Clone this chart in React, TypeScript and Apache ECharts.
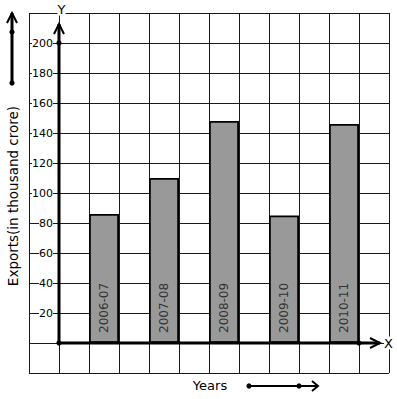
import React, { useEffect, useRef } from 'react';
import * as echarts from 'echarts';

const years = ['2006-07', '2007-08', '2008-09', '2009-10', '2010-11'];
const exportsValues = [86, 110, 148, 85, 146];
const yTickLabels = [20, 40, 60, 80, 100, 120, 140, 160, 180, 200];

const FONT = 'DejaVu Sans';

export default function App() {
  const ref = useRef<HTMLDivElement>(null);

  useEffect(() => {
    const chart = echarts.init(ref.current!, null, { renderer: 'svg' });
    const gridLine = { show: true, lineStyle: { color: '#1a1a1a', width: 1 } };
    chart.setOption({
      animation: false,
      grid: { left: 29, top: 13, width: 360, height: 360 },
      xAxis: {
        type: 'value',
        min: -1,
        max: 11,
        interval: 1,
        axisLine: { show: false, onZero: false },
        axisTick: { show: false },
        axisLabel: { show: false },
        splitLine: gridLine,
      },
      yAxis: {
        type: 'value',
        min: -20,
        max: 220,
        interval: 20,
        position: 'left',
        offset: -30,
        axisLine: { show: false, onZero: false },
        axisTick: { show: false },
        axisLabel: {
          margin: 6,
          fontSize: 11,
          fontFamily: FONT,
          color: '#000',
          backgroundColor: '#fff',
          formatter: (v: number) => (yTickLabels.includes(v) ? String(v) : ''),
        },
        splitLine: gridLine,
      },
      series: [
        {
          type: 'bar',
          data: years.map((_, i) => [1.5 + 2 * i, exportsValues[i]]),
          barWidth: 30,
          itemStyle: { color: '#999999', borderColor: '#000', borderWidth: 1.8 },
          label: {
            show: true,
            position: 'insideBottom',
            rotate: 90,
            align: 'left',
            verticalAlign: 'middle',
            distance: 10,
            formatter: (p: any) => years[p.dataIndex],
            fontSize: 12,
            fontFamily: FONT,
            color: '#333',
          },
        },
      ],
    });

    const p = (x: number, y: number) => chart.convertToPixel({ gridIndex: 0 }, [x, y]) as number[];
    const [ox, oy] = p(0, 0);
    const [, yTop] = p(0, 212.7);
    const [xEnd] = p(10.7, 0);
    const [, y200] = p(0, 200);
    const [x10] = p(10, 0);
    const black = '#000';
    const line = (x1: number, y1: number, x2: number, y2: number, w = 3) => ({
      type: 'line', z: 10, shape: { x1, y1, x2, y2 }, style: { stroke: black, lineWidth: w },
    });
    const chev = (pts: number[][]) => ({
      type: 'polyline', z: 10, shape: { points: pts }, style: { stroke: black, lineWidth: 2, fill: null },
    });
    const dot = (cx: number, cy: number) => ({
      type: 'circle', z: 11, shape: { cx, cy, r: 2.6 }, style: { fill: black },
    });
    const txt = (x: number, y: number, text: string, size: number, extra: any = {}) => ({
      type: 'text', z: 12, x, y,
      style: { text, fontSize: size, fontFamily: FONT, fill: '#000', align: 'center', verticalAlign: 'middle', ...extra },
    });

    chart.setOption({
      graphic: [
        // axes
        line(ox, oy, ox, yTop),
        chev([[ox - 5, yTop + 10], [ox, yTop], [ox + 5, yTop + 10]]),
        line(ox, oy, xEnd, oy),
        chev([[xEnd - 10, oy - 5], [xEnd, oy], [xEnd - 10, oy + 5]]),
        dot(ox, oy),
        dot(ox, y200),
        dot(x10, oy),
        txt(ox + 2.5, 9, 'Y', 13, { backgroundColor: '#fff' }),
        txt(388.5, oy, 'X', 13, { backgroundColor: '#fff' }),
        // y-direction indicator
        line(12, 83, 12, 13, 3),
        chev([[7, 23], [12, 13], [17, 23]]),
        dot(12, 32),
        dot(12, 83),
        // titles
        { ...txt(13, 196, 'Exports(in thousand crore)', 13.5), rotation: Math.PI / 2 },
        txt(210, 385.5, 'Years', 13),
        // x-direction indicator
        line(249, 386, 318, 386, 2),
        chev([[312, 381], [318, 386], [312, 391]]),
        dot(249, 386),
        dot(299, 386),
      ],
    });

    return () => chart.dispose();
  }, []);

  return (
    <div
      ref={ref}
      style={{ position: 'fixed', left: 0, top: 0, width: 397, height: 399, background: '#fff' }}
    />
  );
}
